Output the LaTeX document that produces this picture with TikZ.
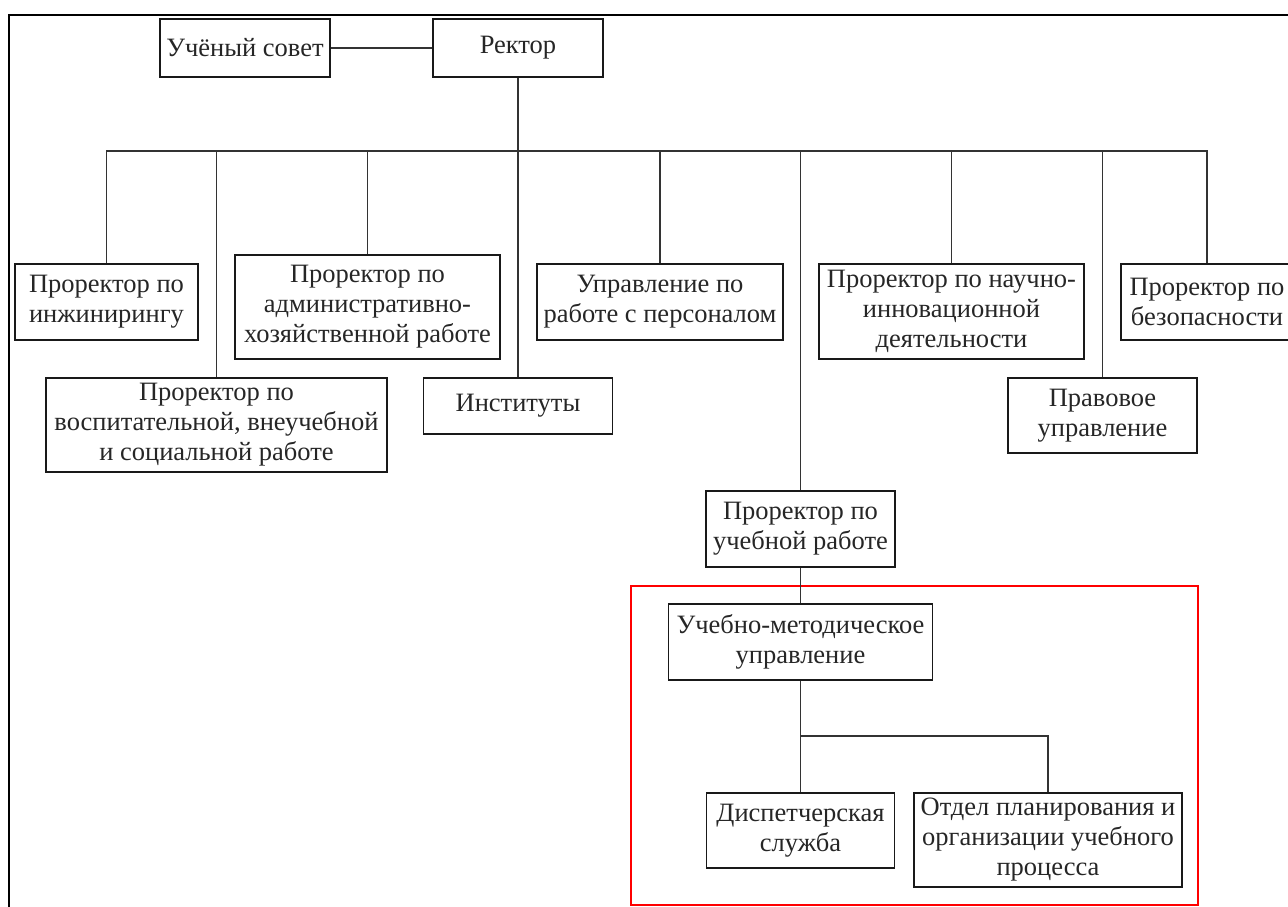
\documentclass[tikz,border=0pt]{standalone}
\usepackage{fontspec}
\setmainfont{Liberation Serif}
\begin{document}
\begin{tikzpicture}[x=1pt,y=-1pt,
  orgbox/.style={draw=black!90,line width=1.5pt,align=center,inner sep=0pt,
    font=\fontsize{26.5}{30}\selectfont,text=black!85},
  conn/.style={draw=black!80,line width=1.7pt}]
\useasboundingbox (0,0) rectangle (1288,907);
% frame
\draw[line width=2pt,black] (9,907) -- (9,15) -- (1290,15);
% red highlight
\draw[red,line width=1.5pt] (631,586) rectangle (1198,905);
\node[orgbox,minimum width=170pt,minimum height=58pt] (sovet) at (245,48) {Учёный совет};
\node[orgbox,minimum width=170pt,minimum height=58pt] (rector) at (518,48) {Ректор};
\node[orgbox,minimum width=183pt,minimum height=76pt] (inzh) at (106.5,302) {Проректор по\\инжинирингу};
\node[orgbox,minimum width=341pt,minimum height=94pt] (vosp) at (216.5,425) {Проректор по\\воспитательной, внеучебной\\и социальной работе};
\node[orgbox,minimum width=265pt,minimum height=104pt] (adm) at (367.5,307) {Проректор по\\административно-\\хозяйственной работе};
\node[orgbox,minimum width=189pt,minimum height=56pt] (inst) at (518,406) {Институты};
\node[orgbox,minimum width=246pt,minimum height=76pt] (upr) at (660,302) {Управление по\\работе с персоналом};
\node[orgbox,minimum width=265pt,minimum height=95pt] (nauch) at (951.5,311.5) {Проректор по научно-\\инновационной\\деятельности};
\node[orgbox,minimum width=172pt,minimum height=76pt] (bez) at (1207,302) {Проректор по\\безопасности};
\node[orgbox,minimum width=189pt,minimum height=75pt] (prav) at (1102.5,415.5) {Правовое\\управление};
\node[orgbox,minimum width=189pt,minimum height=76pt] (ucheb) at (800.5,529) {Проректор по\\учебной работе};
\node[orgbox,minimum width=264pt,minimum height=76pt] (umu) at (800.5,642) {Учебно-методическое\\управление};
\node[orgbox,minimum width=188pt,minimum height=75pt] (disp) at (800.5,830.5) {Диспетчерская\\служба};
\node[orgbox,minimum width=268pt,minimum height=94pt] (otdel) at (1048,840) {Отдел планирования и\\организации учебного\\процесса};
\coordinate (bus) at (0,151);
\coordinate (br) at (0,736);
\draw[conn] (sovet.east) -- (rector.west);
\draw[conn] (rector.south) -- (inst.north);
\draw[conn] (inzh.north) -- (inzh.north |- bus) -- (bez.north |- bus) -- (bez.north);
\draw[conn] (vosp.north) -- (vosp.north |- bus);
\draw[conn] (adm.north) -- (adm.north |- bus);
\draw[conn] (upr.north) -- (upr.north |- bus);
\draw[conn] (ucheb.north) -- (ucheb.north |- bus);
\draw[conn] (nauch.north) -- (nauch.north |- bus);
\draw[conn] (prav.north) -- (prav.north |- bus);
\draw[conn] (ucheb.south) -- (umu.north);
\draw[conn] (umu.south) -- (disp.north);
\draw[conn] (umu.south |- br) -| (otdel.north);
\end{tikzpicture}
\end{document}
